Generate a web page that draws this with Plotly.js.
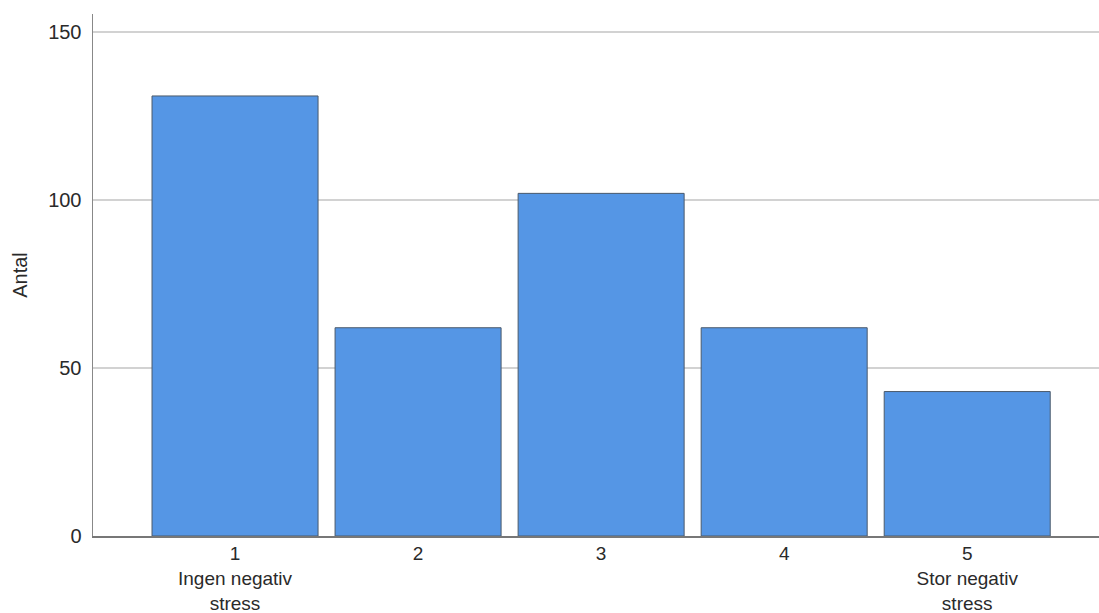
<!DOCTYPE html>
<html>
<head>
<meta charset="utf-8">
<script src="https://cdn.plot.ly/plotly-3.0.1.min.js"></script>
<style>html,body{margin:0;padding:0;background:#fff;}#chart{width:1099px;height:613px;}</style>
</head>
<body>
<div id="chart"></div>
<script>
const categories = [1, 2, 3, 4, 5];
const tickLabels = ["1<br>Ingen negativ<br>stress", "2", "3", "4", "5<br>Stor negativ<br>stress"];
const counts = [131, 62, 102, 62, 43];

const trace = {
  type: 'bar',
  x: categories,
  y: counts,
  width: 0.907,
  marker: {color: '#5596E5', line: {color: '#4B5A6B', width: 1}},
  hoverinfo: 'x+y'
};

const layout = {
  width: 1099, height: 613,
  margin: {l: 93, r: 0, t: 14, b: 77},
  paper_bgcolor: '#ffffff', plot_bgcolor: '#ffffff',
  showlegend: false,
  font: {family: 'Liberation Sans, Arial, sans-serif', color: '#2a2a2a', size: 19},
  xaxis: {
    range: [0.224, 5.72],
    tickmode: 'array', tickvals: categories, ticktext: tickLabels,
    showgrid: false, zeroline: false,
    showline: true, linecolor: '#777777', linewidth: 1.5,
    ticks: '', tickfont: {size: 19, color: '#2a2a2a'}
  },
  yaxis: {
    range: [0, 155.4],
    tickvals: [0, 50, 100, 150],
    showgrid: true, gridcolor: '#d2d2d2', gridwidth: 2,
    zeroline: false,
    showline: true, linecolor: '#888888', linewidth: 1.5,
    ticks: '', ticklabelstandoff: 6,
    tickfont: {size: 20, color: '#2a2a2a'},
    title: {text: 'Antal', font: {size: 20, color: '#2a2a2a'}, standoff: 15}
  }
};

Plotly.newPlot('chart', [trace], layout, {displayModeBar: false, staticPlot: true});
</script>
</body>
</html>
